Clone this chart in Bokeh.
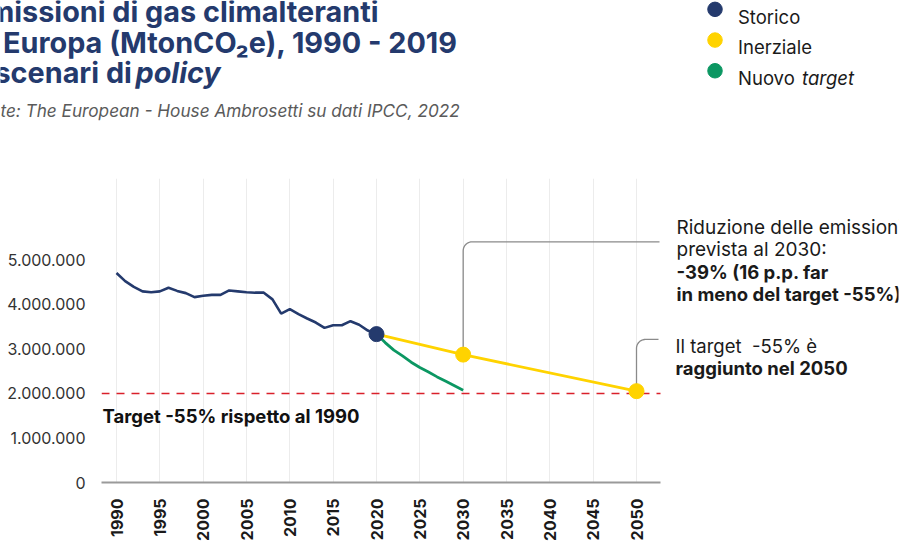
import numpy as np
from bokeh.plotting import figure
from bokeh.layouts import column
from bokeh.models import Range1d, FixedTicker, Label
from bokeh.core.properties import value
from bokeh.embed import file_html
from bokeh.resources import INLINE

FONT = "Inter"
NAVY = "#243a6d"
YELLOW = "#ffd300"
GREEN = "#0b9762"
RED = "#d9202b"
GREY_CONN = "#8a8a8a"
TEXT = "#1a1a1a"

# ---------------- data ----------------
years_hist = list(range(1990, 2021))
emis_hist = [4.70, 4.52, 4.39, 4.29, 4.27, 4.29, 4.37, 4.30, 4.25, 4.16,
             4.19, 4.21, 4.21, 4.31, 4.29, 4.27, 4.26, 4.26, 4.11, 3.79,
             3.89, 3.78, 3.68, 3.59, 3.47, 3.53, 3.53, 3.62, 3.54, 3.41, 3.33]
years_inerz = [2020, 2030, 2050]
emis_inerz = [3.33, 2.87, 2.05]
years_target = list(range(2020, 2031))
emis_target = [3.33, 3.14, 2.97, 2.84, 2.70, 2.58, 2.48, 2.37, 2.27, 2.17, 2.07]
target_level = 2.0

x_ticks = list(range(1990, 2051, 5))
y_ticks = [0, 1, 2, 3, 4, 5]
y_tick_labels = ["0", "1.000.000", "2.000.000", "3.000.000", "4.000.000", "5.000.000"]

legend_labels = ["Storico", "Inerziale", "Nuovo"]
legend_colors = [NAVY, YELLOW, GREEN]

M = 1_000_000
hist_v = [v * M for v in emis_hist]
inerz_v = [v * M for v in emis_inerz]
target_v = [v * M for v in emis_target]

# ---------------- layout (window px) ----------------
W, H = 903, 543
TOP_H = 178                            # header strip height
TOP_PAD = 7                            # header frame starts this far down
FL, FR, FT, FB = 101, 898, 178, 485    # main frame edges (window px)
PX_YEAR = 520 / 60                     # px per year
X0 = 1990 - 15 / PX_YEAR
X1 = X0 + (FR - FL) / PX_YEAR
PX_M = 45.0                            # px per million
Y0, Y1 = 0, (FB - FT) / PX_M * M


def dx(px):
    return X0 + (px - FL) / PX_YEAR


def dy(py):
    return (FB - py) / PX_M * M


# ---------------- header figure (title, source, legend) ----------------
top = figure(width=W, height=TOP_H, output_backend="svg", toolbar_location=None,
             title=None,
             x_range=Range1d(0, W), y_range=Range1d(TOP_H, TOP_PAD),
             x_axis_location=None, y_axis_location=None,
             min_border=0, min_border_left=0, min_border_right=0,
             min_border_top=0, min_border_bottom=0)
top.outline_line_color = None
top.grid.visible = False
top.background_fill_color = "white"
top.border_fill_color = "white"


def htext(txt, x, y, size, style="normal", color=TEXT):
    top.text(x=[x], y=[y], text=[txt], text_font=value(FONT),
             text_font_size=size, text_font_style=style, text_color=color,
             text_align="left", text_baseline="alphabetic")


TX = -30
htext("Emissioni di gas climalteranti", TX, 17.5, "28.8px", "bold", NAVY)
htext("in Europa (MtonCO\u2082e), 1990 - 2019", TX, 47, "28.8px", "bold", NAVY)
htext("e scenari di", TX, 76.5, "28.8px", "bold", NAVY)
htext("policy", 135, 76.5, "28.8px", "bold italic", NAVY)
htext("Fonte: The European - House Ambrosetti su dati IPCC, 2022", TX, 113,
      "17.2px", "italic", "#5a5a5a")

# legend swatches + labels
leg_y = [15.5, 45, 74.5]
top.scatter(x=[714.5] * 3, y=leg_y, size=14.5, color=legend_colors)
for lab, yy in zip(legend_labels, leg_y):
    htext(lab, 737.5, yy + 7, "18.5px")
htext("target", 801.5, leg_y[2] + 7, "18.5px", "italic")

# ---------------- main chart ----------------
p = figure(width=W, height=H - TOP_H, output_backend="svg", toolbar_location=None,
           title=None,
           x_range=Range1d(X0, X1), y_range=Range1d(Y0, Y1),
           min_border_left=FL, min_border_right=W - FR,
           min_border_top=0, min_border_bottom=H - FB)
p.outline_line_color = None
p.background_fill_color = "white"
p.border_fill_color = "white"

p.xaxis.ticker = FixedTicker(ticks=x_ticks)
p.xaxis.bounds = (X0, dx(660))
p.xaxis.major_label_orientation = np.pi / 2
p.xaxis.major_tick_line_color = None
p.xaxis.major_tick_out = 0
p.xaxis.major_tick_in = 0
p.xaxis.minor_tick_line_color = None
p.xaxis.axis_line_color = "#9a9a9a"
p.xaxis.axis_line_width = 2
p.xaxis.major_label_text_font = FONT
p.xaxis.major_label_text_font_style = "bold"
p.xaxis.major_label_text_font_size = "16px"
p.xaxis.major_label_text_color = TEXT
p.xaxis.major_label_standoff = 16

p.yaxis.ticker = FixedTicker(ticks=[t * M for t in y_ticks])
p.yaxis.major_label_overrides = {t * M: lab for t, lab in zip(y_ticks, y_tick_labels)}
p.yaxis.axis_line_color = None
p.yaxis.major_tick_line_color = None
p.yaxis.major_tick_out = 0
p.yaxis.major_tick_in = 0
p.yaxis.minor_tick_line_color = None
p.yaxis.major_label_text_font = FONT
p.yaxis.major_label_text_font_size = "16px"
p.yaxis.major_label_text_color = "#333333"
p.yaxis.major_label_standoff = 16

p.xgrid.grid_line_color = "#ececec"
p.xgrid.grid_line_width = 1
p.ygrid.grid_line_color = None

# target (-55%) dashed line
p.line([X0, dx(660)], [target_level * M] * 2, line_color=RED,
       line_width=1.5, line_dash="8 7")


def connector(x_year, y_val, level_py, end_px, r=9):
    rx = r / PX_YEAR
    ry = r / PX_M * M
    yh = dy(level_py)
    cx, cy = x_year + rx, yh - ry
    t = np.linspace(np.pi, np.pi / 2, 12)
    xs = [x_year] + list(cx + rx * np.cos(t)) + [dx(end_px)]
    ys = [y_val] + list(cy + ry * np.sin(t)) + [yh]
    p.line(xs, ys, line_color=GREY_CONN, line_width=1.3)


connector(years_inerz[1], inerz_v[1], 242, 659)
connector(years_inerz[2], inerz_v[2], 340.5, 658)

p.line(years_inerz, inerz_v, line_color=YELLOW, line_width=2.8)
p.line(years_target, target_v, line_color=GREEN, line_width=2.8)
p.line(years_hist, hist_v, line_color=NAVY, line_width=2.6)
p.scatter(years_inerz[1:], inerz_v[1:], size=15, color=YELLOW)
p.scatter([years_hist[-1]], [hist_v[-1]], size=15, color=NAVY)


def label(text, px, py, size="18.5px", style="normal", color=TEXT):
    p.add_layout(Label(x=px - FL, y=FB - py, x_units="screen", y_units="screen",
                       text=text, text_font=FONT, text_font_size=size,
                       text_font_style=style, text_color=color,
                       text_align="left", text_baseline="alphabetic"))


label("Riduzione delle emissioni", 676, 230, size="19px")
label("prevista al 2030:", 676, 252, size="19px")
label("-39% (16 p.p. far", 676, 274, style="bold")
label("in meno del target -55%)", 676, 296.5, style="bold")
label("Il target\u00a0 -55% è", 675, 348)
label("raggiunto nel 2050", 675, 370, style="bold")
label("Target -55% rispetto al 1990", 102, 418, style="bold", color="#111111")

if "frame_align" in top.properties():
    top.frame_align = False
    p.frame_align = False
    html = file_html(column(top, p, spacing=0), INLINE)
else:
    html = file_html([top, p], INLINE)
open("out.html", "w").write(html)
